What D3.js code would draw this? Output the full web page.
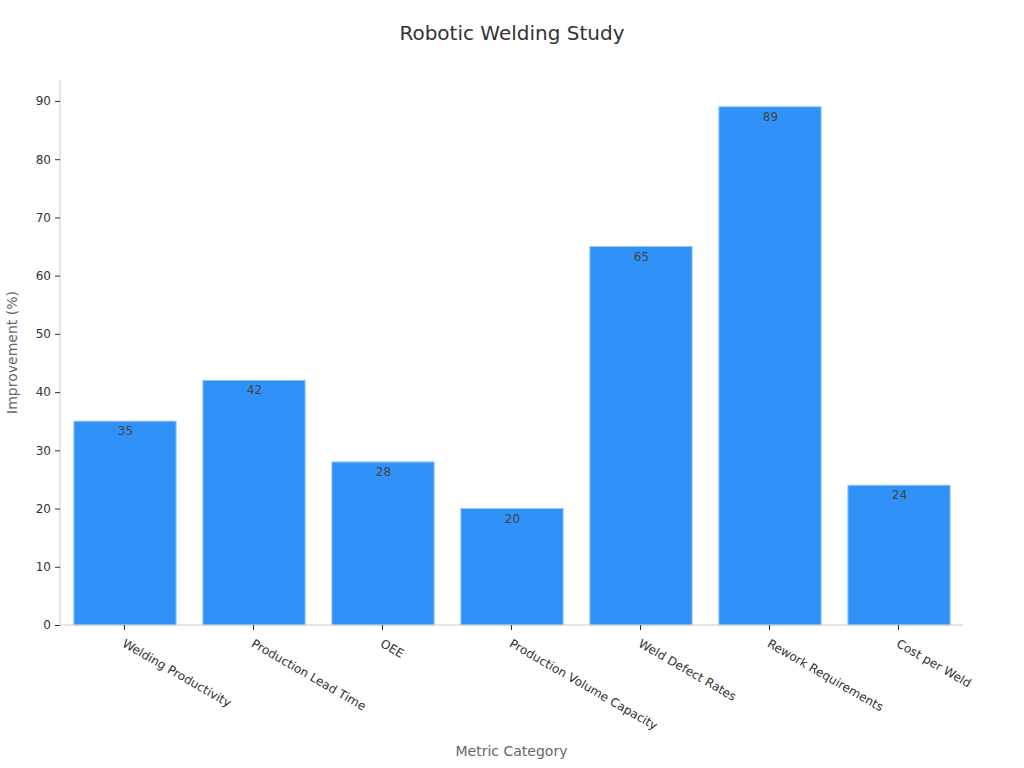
<!DOCTYPE html>
<html><head><meta charset="utf-8">
<script src="https://cdn.jsdelivr.net/npm/d3@7"></script>
<style>body{margin:0;background:#fff}svg{font-family:"DejaVu Sans",sans-serif}</style>
</head><body>
<svg id="c" width="1024" height="768"></svg>
<script>
const categories = ["Welding Productivity","Production Lead Time","OEE","Production Volume Capacity","Weld Defect Rates","Rework Requirements","Cost per Weld"];
const values = [35,42,28,20,65,89,24];
const yTicks = [0,10,20,30,40,50,60,70,80,90];

const svg = d3.select("#c");
const L = 60, R = 963, T = 80, B = 625;
const x = d3.scaleBand().domain(categories).range([L, R]).paddingInner(0.2).paddingOuter(0.1);
const y = d3.scaleLinear().domain([0, 93.6]).range([B, T]);

svg.append("text").attr("x", 512).attr("y", 40).attr("text-anchor", "middle")
  .attr("font-size", 20).attr("fill", "#333").text("Robotic Welding Study");

svg.selectAll("rect.bar").data(values).join("rect").attr("class","bar")
  .attr("x", (d,i) => x(categories[i]) + 1).attr("width", x.bandwidth() - 1)
  .attr("y", d => y(d)).attr("height", d => B - y(d))
  .attr("fill", "#3092f8").attr("stroke", "#8ec3f7").attr("stroke-width", 1);

svg.selectAll("text.val").data(values).join("text").attr("class","val")
  .attr("x", (d,i) => x(categories[i]) + x.bandwidth()/2 + 1).attr("y", d => y(d) + 14)
  .attr("text-anchor","middle").attr("font-size", 12).attr("fill", "#444").text(d => d);

// y axis
const ya = svg.append("g").attr("transform", `translate(${L},0)`)
  .call(d3.axisLeft(y).tickValues(yTicks).tickSize(5).tickPadding(4));
ya.select(".domain").attr("stroke", "#ccc").attr("d", `M0,${T}V${B}`);
ya.selectAll(".tick line").attr("stroke", "#333");
ya.selectAll(".tick text").attr("font-size", 12).attr("fill", "#333").attr("font-family","DejaVu Sans");

// x axis
const xa = svg.append("g").attr("transform", `translate(0,${B})`)
  .call(d3.axisBottom(x).tickSize(5).tickSizeOuter(0));
xa.select(".domain").attr("stroke", "#ccc").attr("d", `M${L},0H${R}`);
xa.selectAll(".tick line").attr("stroke", "#333");
xa.selectAll(".tick text").attr("font-size", 12).attr("fill", "#333").attr("font-family","DejaVu Sans")
  .attr("text-anchor","start").attr("dy", 0).attr("y", 0)
  .attr("transform", "translate(-3,21) rotate(30)");

svg.append("text").attr("x", (L+R)/2).attr("y", 756).attr("text-anchor","middle")
  .attr("font-size", 14).attr("fill", "#666").text("Metric Category");
svg.append("text").attr("transform", `translate(17,${(T+B)/2}) rotate(-90)`).attr("text-anchor","middle")
  .attr("font-size", 14).attr("fill", "#666").text("Improvement (%)");
</script>
</body></html>
